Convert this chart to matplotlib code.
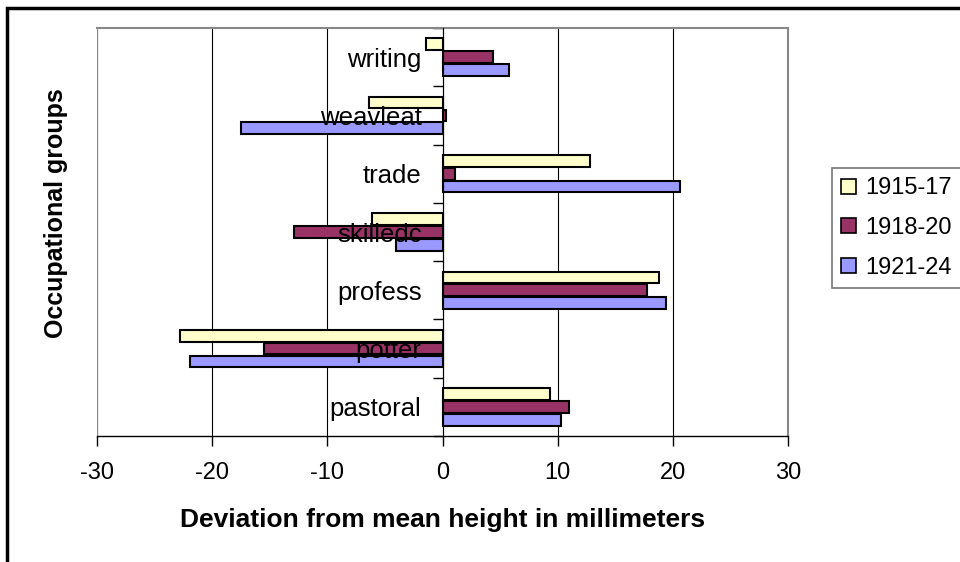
import numpy as np
import matplotlib
matplotlib.use("Agg")
import matplotlib.pyplot as plt
from matplotlib.patches import Rectangle

plt.rcParams['font.family'] = ['Liberation Sans', 'DejaVu Sans']
plt.rcParams['axes.unicode_minus'] = False

groups = ["pastoral", "potter", "profess", "skilledc", "trade", "weavleat", "writing"]
series_names = ["1915-17", "1918-20", "1921-24"]
v1915 = [9.3, -22.8, 18.8, -6.1, 12.8, -6.4, -1.4]
v1918 = [11.0, -15.5, 17.8, -12.9, 1.1, 0.3, 4.4]
v1921 = [10.3, -21.9, 19.4, -4.0, 20.6, -17.5, 5.8]
colors = ["#FFFFCC", "#993366", "#9999FF"]


def main():
    fig = plt.figure(figsize=(9.6, 5.62), dpi=100)
    ax = fig.add_axes([97 / 960, 1 - 436 / 562, (788 - 97) / 960, (436 - 28) / 562])

    pos = np.arange(len(groups))
    offsets = [0.22, 0.0, -0.22]
    for vals, off, col, name in zip([v1915, v1918, v1921], offsets, colors, series_names):
        ax.barh(pos + off, vals, height=0.2, color=col, edgecolor='black',
                linewidth=1.5, label=name, zorder=3)

    ax.set_xlim(-30, 30)
    ax.set_ylim(-0.5, len(groups) - 0.5)
    ax.set_xticks(np.arange(-30, 31, 10))
    ax.tick_params(axis='x', direction='out', length=7, width=1, labelsize=17, pad=12)
    ax.grid(axis='x', color='black', linewidth=0.8, zorder=0)
    ax.set_axisbelow(True)

    # category axis sits at x = 0
    ax.spines['left'].set_position(('data', 0))
    ax.spines['left'].set_zorder(4)
    ax.set_yticks(np.arange(-0.5, len(groups), 1.0))
    ax.set_yticklabels([])
    ax.tick_params(axis='y', direction='out', length=7, width=1)
    for s in ['top', 'right']:
        ax.spines[s].set_color('#888888')
        ax.spines[s].set_linewidth(1.5)
    ax.spines['bottom'].set_linewidth(1)
    ax.axvline(-30, color='#888888', linewidth=1.5, zorder=1)

    for i, g in enumerate(groups):
        ax.annotate(g, xy=(0, i), xytext=(-21, 0), textcoords='offset pixels',
                    ha='right', va='center_baseline', fontsize=18.5, zorder=5)

    fig.text(443 / 960, 1 - 520 / 562, "Deviation from mean height in millimeters",
             ha='center', va='center', fontsize=19, fontweight='bold')
    fig.text(56 / 960, 1 - 213 / 562, "Occupational groups", rotation=90,
             ha='center', va='center', fontsize=18, fontweight='bold')

    leg = ax.legend(loc='upper left', bbox_to_anchor=(832 / 960, 1 - 168 / 562),
                    bbox_transform=fig.transFigure, fontsize=17, frameon=True,
                    fancybox=False, edgecolor='#555555', handlelength=0.6,
                    handleheight=0.6, handletextpad=0.4, labelspacing=0.75,
                    borderpad=0.4, borderaxespad=0)
    leg.get_frame().set_linewidth(1.2)
    for h in leg.legend_handles:
        h.set_linewidth(1.2)

    fig.add_artist(Rectangle((7 / 960, -0.1), 1.2, 1 - 8 / 562 + 0.1,
                             transform=fig.transFigure, fill=False,
                             edgecolor='black', linewidth=2.5))

    fig.savefig("out.png", dpi=100)


if __name__ == '__main__':
    main()
